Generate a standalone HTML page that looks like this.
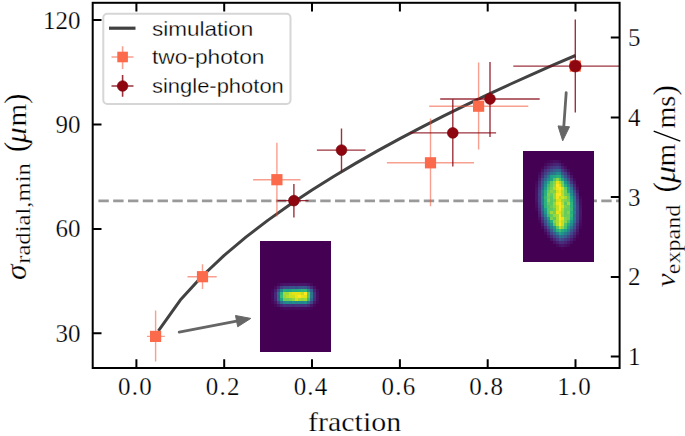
<!DOCTYPE html>
<html><head><meta charset="utf-8"><style>
html,body{margin:0;padding:0;background:#fff;}
svg{display:block;}
</style></head><body>
<svg width="685" height="436" viewBox="0 0 685 436">
<rect width="685" height="436" fill="#fff"/>
<line x1="98.4" y1="200.9" x2="619.6" y2="200.9" stroke="#999" stroke-width="2.6" stroke-dasharray="10.4 4.39"/>
<polyline points="158.4,330.8 180.3,300.1 202.3,276.0 224.2,255.3 246.2,236.9 268.1,220.1 290.1,204.5 312.0,190.0 334.0,176.2 356.0,163.1 377.9,150.6 399.9,138.6 421.8,127.1 443.8,115.9 465.7,105.1 487.7,94.6 509.6,84.5 531.6,74.6 553.5,64.9 575.5,55.5" fill="none" stroke="#424242" stroke-width="3.0" stroke-linejoin="round"/>
<path d="M146.9,336.4H164.8M155.6,310.5V361.4" stroke="rgba(243,85,55,0.56)" stroke-width="1.4" fill="none"/>
<path d="M187.5,276.7H216.7M202.5,264.3V289.0" stroke="rgba(243,85,55,0.56)" stroke-width="1.4" fill="none"/>
<path d="M253.1,179.7H300.5M276.9,142.8V216.4" stroke="rgba(243,85,55,0.56)" stroke-width="1.4" fill="none"/>
<path d="M386.9,162.8H474.0M430.5,118.5V206.3" stroke="rgba(243,85,55,0.56)" stroke-width="1.4" fill="none"/>
<path d="M429.2,106.2H528.3M478.6,62.4V149.6" stroke="rgba(243,85,55,0.56)" stroke-width="1.4" fill="none"/>
<path d="M277.5,200.6H308.5M293.9,184.0V217.5" stroke="rgba(130,0,15,0.8)" stroke-width="1.4" fill="none"/>
<path d="M316.9,150.1H365.5M341.5,128.5V172.0" stroke="rgba(130,0,15,0.8)" stroke-width="1.4" fill="none"/>
<path d="M410.0,132.9H496.1M452.8,99.2V166.6" stroke="rgba(130,0,15,0.8)" stroke-width="1.4" fill="none"/>
<path d="M440.2,99.0H539.7M490.0,62.1V137.0" stroke="rgba(130,0,15,0.8)" stroke-width="1.4" fill="none"/>
<path d="M513.3,66.1H619.6M575.3,19.6V112.4" stroke="rgba(130,0,15,0.8)" stroke-width="1.4" fill="none"/>
<rect x="150.0" y="330.79999999999995" width="11.2" height="11.2" fill="#fb6a4a"/>
<rect x="196.9" y="271.09999999999997" width="11.2" height="11.2" fill="#fb6a4a"/>
<rect x="271.29999999999995" y="174.1" width="11.2" height="11.2" fill="#fb6a4a"/>
<rect x="424.9" y="157.20000000000002" width="11.2" height="11.2" fill="#fb6a4a"/>
<rect x="473.0" y="100.60000000000001" width="11.2" height="11.2" fill="#fb6a4a"/>
<rect x="569.6999999999999" y="60.49999999999999" width="11.2" height="11.2" fill="#fb6a4a"/>
<circle cx="293.9" cy="200.6" r="5.4" fill="#8e0710" stroke="#7a0008" stroke-width="0.6"/>
<circle cx="341.5" cy="150.1" r="5.4" fill="#8e0710" stroke="#7a0008" stroke-width="0.6"/>
<circle cx="452.8" cy="132.9" r="5.4" fill="#8e0710" stroke="#7a0008" stroke-width="0.6"/>
<circle cx="490.0" cy="99.0" r="5.4" fill="#8e0710" stroke="#7a0008" stroke-width="0.6"/>
<circle cx="575.3" cy="66.1" r="5.9" fill="#8e0710" stroke="#7a0008" stroke-width="0.6"/>
<g shape-rendering="crispEdges"><rect x="259.5" y="241.3" width="71.2" height="111.0" fill="#440154"/><rect x="277.30" y="283.30" width="2.97" height="3.00" fill="#46075a"/><rect x="280.27" y="283.30" width="2.97" height="3.00" fill="#471063"/><rect x="283.23" y="283.30" width="2.97" height="3.00" fill="#481668"/><rect x="286.20" y="283.30" width="2.97" height="3.00" fill="#481467"/><rect x="289.17" y="283.30" width="2.97" height="3.00" fill="#481668"/><rect x="292.13" y="283.30" width="2.97" height="3.00" fill="#481668"/><rect x="295.10" y="283.30" width="2.97" height="3.00" fill="#481668"/><rect x="298.07" y="283.30" width="2.97" height="3.00" fill="#481769"/><rect x="301.03" y="283.30" width="2.97" height="3.00" fill="#481668"/><rect x="304.00" y="283.30" width="2.97" height="3.00" fill="#481769"/><rect x="306.97" y="283.30" width="2.97" height="3.00" fill="#471164"/><rect x="309.93" y="283.30" width="2.97" height="3.00" fill="#460a5d"/><rect x="274.33" y="286.30" width="2.97" height="3.00" fill="#460b5e"/><rect x="277.30" y="286.30" width="2.97" height="3.00" fill="#482173"/><rect x="280.27" y="286.30" width="2.97" height="3.00" fill="#433d84"/><rect x="283.23" y="286.30" width="2.97" height="3.00" fill="#3d4d8a"/><rect x="286.20" y="286.30" width="2.97" height="3.00" fill="#3e4c8a"/><rect x="289.17" y="286.30" width="2.97" height="3.00" fill="#3b518b"/><rect x="292.13" y="286.30" width="2.97" height="3.00" fill="#3a538b"/><rect x="295.10" y="286.30" width="2.97" height="3.00" fill="#3d4d8a"/><rect x="298.07" y="286.30" width="2.97" height="3.00" fill="#39568c"/><rect x="301.03" y="286.30" width="2.97" height="3.00" fill="#38598c"/><rect x="304.00" y="286.30" width="2.97" height="3.00" fill="#39558c"/><rect x="306.97" y="286.30" width="2.97" height="3.00" fill="#404588"/><rect x="309.93" y="286.30" width="2.97" height="3.00" fill="#482979"/><rect x="312.90" y="286.30" width="2.97" height="3.00" fill="#471063"/><rect x="271.37" y="289.30" width="2.97" height="3.00" fill="#46075a"/><rect x="274.33" y="289.30" width="2.97" height="3.00" fill="#481c6e"/><rect x="277.30" y="289.30" width="2.97" height="3.00" fill="#3e4989"/><rect x="280.27" y="289.30" width="2.97" height="3.00" fill="#26818e"/><rect x="283.23" y="289.30" width="2.97" height="3.00" fill="#24aa83"/><rect x="286.20" y="289.30" width="2.97" height="3.00" fill="#20a386"/><rect x="289.17" y="289.30" width="2.97" height="3.00" fill="#21a685"/><rect x="292.13" y="289.30" width="2.97" height="3.00" fill="#27ad81"/><rect x="295.10" y="289.30" width="2.97" height="3.00" fill="#25ac82"/><rect x="298.07" y="289.30" width="2.97" height="3.00" fill="#28ae80"/><rect x="301.03" y="289.30" width="2.97" height="3.00" fill="#2fb47c"/><rect x="304.00" y="289.30" width="2.97" height="3.00" fill="#31b57b"/><rect x="306.97" y="289.30" width="2.97" height="3.00" fill="#20928c"/><rect x="309.93" y="289.30" width="2.97" height="3.00" fill="#365d8d"/><rect x="312.90" y="289.30" width="2.97" height="3.00" fill="#482475"/><rect x="315.87" y="289.30" width="2.97" height="3.00" fill="#460a5d"/><rect x="271.37" y="292.30" width="2.97" height="3.00" fill="#460a5d"/><rect x="274.33" y="292.30" width="2.97" height="3.00" fill="#482878"/><rect x="277.30" y="292.30" width="2.97" height="3.00" fill="#30698e"/><rect x="280.27" y="292.30" width="2.97" height="3.00" fill="#2fb47c"/><rect x="283.23" y="292.30" width="2.97" height="3.00" fill="#a0da39"/><rect x="286.20" y="292.30" width="2.97" height="3.00" fill="#9bd93c"/><rect x="289.17" y="292.30" width="2.97" height="3.00" fill="#cde11d"/><rect x="292.13" y="292.30" width="2.97" height="3.00" fill="#dfe318"/><rect x="295.10" y="292.30" width="2.97" height="3.00" fill="#e5e419"/><rect x="298.07" y="292.30" width="2.97" height="3.00" fill="#e2e418"/><rect x="301.03" y="292.30" width="2.97" height="3.00" fill="#c2df23"/><rect x="304.00" y="292.30" width="2.97" height="3.00" fill="#fde725"/><rect x="306.97" y="292.30" width="2.97" height="3.00" fill="#5ec962"/><rect x="309.93" y="292.30" width="2.97" height="3.00" fill="#2a778e"/><rect x="312.90" y="292.30" width="2.97" height="3.00" fill="#46337f"/><rect x="315.87" y="292.30" width="2.97" height="3.00" fill="#470d60"/><rect x="271.37" y="295.30" width="2.97" height="3.00" fill="#460a5d"/><rect x="274.33" y="295.30" width="2.97" height="3.00" fill="#482878"/><rect x="277.30" y="295.30" width="2.97" height="3.00" fill="#33638d"/><rect x="280.27" y="295.30" width="2.97" height="3.00" fill="#3bbb75"/><rect x="283.23" y="295.30" width="2.97" height="3.00" fill="#93d741"/><rect x="286.20" y="295.30" width="2.97" height="3.00" fill="#b2dd2d"/><rect x="289.17" y="295.30" width="2.97" height="3.00" fill="#cae11f"/><rect x="292.13" y="295.30" width="2.97" height="3.00" fill="#cae11f"/><rect x="295.10" y="295.30" width="2.97" height="3.00" fill="#e7e419"/><rect x="298.07" y="295.30" width="2.97" height="3.00" fill="#fbe723"/><rect x="301.03" y="295.30" width="2.97" height="3.00" fill="#e5e419"/><rect x="304.00" y="295.30" width="2.97" height="3.00" fill="#e2e418"/><rect x="306.97" y="295.30" width="2.97" height="3.00" fill="#5cc863"/><rect x="309.93" y="295.30" width="2.97" height="3.00" fill="#2a778e"/><rect x="312.90" y="295.30" width="2.97" height="3.00" fill="#46337f"/><rect x="315.87" y="295.30" width="2.97" height="3.00" fill="#470d60"/><rect x="271.37" y="298.30" width="2.97" height="3.00" fill="#460a5d"/><rect x="274.33" y="298.30" width="2.97" height="3.00" fill="#482475"/><rect x="277.30" y="298.30" width="2.97" height="3.00" fill="#32648e"/><rect x="280.27" y="298.30" width="2.97" height="3.00" fill="#20a486"/><rect x="283.23" y="298.30" width="2.97" height="3.00" fill="#70cf57"/><rect x="286.20" y="298.30" width="2.97" height="3.00" fill="#70cf57"/><rect x="289.17" y="298.30" width="2.97" height="3.00" fill="#7cd250"/><rect x="292.13" y="298.30" width="2.97" height="3.00" fill="#93d741"/><rect x="295.10" y="298.30" width="2.97" height="3.00" fill="#cde11d"/><rect x="298.07" y="298.30" width="2.97" height="3.00" fill="#a2da37"/><rect x="301.03" y="298.30" width="2.97" height="3.00" fill="#95d840"/><rect x="304.00" y="298.30" width="2.97" height="3.00" fill="#a2da37"/><rect x="306.97" y="298.30" width="2.97" height="3.00" fill="#3dbc74"/><rect x="309.93" y="298.30" width="2.97" height="3.00" fill="#30698e"/><rect x="312.90" y="298.30" width="2.97" height="3.00" fill="#472e7c"/><rect x="315.87" y="298.30" width="2.97" height="3.00" fill="#470d60"/><rect x="271.37" y="301.30" width="2.97" height="3.00" fill="#450559"/><rect x="274.33" y="301.30" width="2.97" height="3.00" fill="#481467"/><rect x="277.30" y="301.30" width="2.97" height="3.00" fill="#443a83"/><rect x="280.27" y="301.30" width="2.97" height="3.00" fill="#31688e"/><rect x="283.23" y="301.30" width="2.97" height="3.00" fill="#26828e"/><rect x="286.20" y="301.30" width="2.97" height="3.00" fill="#228b8d"/><rect x="289.17" y="301.30" width="2.97" height="3.00" fill="#26828e"/><rect x="292.13" y="301.30" width="2.97" height="3.00" fill="#228b8d"/><rect x="295.10" y="301.30" width="2.97" height="3.00" fill="#25848e"/><rect x="298.07" y="301.30" width="2.97" height="3.00" fill="#24868e"/><rect x="301.03" y="301.30" width="2.97" height="3.00" fill="#24868e"/><rect x="304.00" y="301.30" width="2.97" height="3.00" fill="#218f8d"/><rect x="306.97" y="301.30" width="2.97" height="3.00" fill="#2d708e"/><rect x="309.93" y="301.30" width="2.97" height="3.00" fill="#414487"/><rect x="312.90" y="301.30" width="2.97" height="3.00" fill="#481a6c"/><rect x="315.87" y="301.30" width="2.97" height="3.00" fill="#46075a"/><rect x="274.33" y="304.30" width="2.97" height="3.00" fill="#46075a"/><rect x="277.30" y="304.30" width="2.97" height="3.00" fill="#481668"/><rect x="280.27" y="304.30" width="2.97" height="3.00" fill="#482576"/><rect x="283.23" y="304.30" width="2.97" height="3.00" fill="#46327e"/><rect x="286.20" y="304.30" width="2.97" height="3.00" fill="#46307e"/><rect x="289.17" y="304.30" width="2.97" height="3.00" fill="#46337f"/><rect x="292.13" y="304.30" width="2.97" height="3.00" fill="#46307e"/><rect x="295.10" y="304.30" width="2.97" height="3.00" fill="#463480"/><rect x="298.07" y="304.30" width="2.97" height="3.00" fill="#46327e"/><rect x="301.03" y="304.30" width="2.97" height="3.00" fill="#46337f"/><rect x="304.00" y="304.30" width="2.97" height="3.00" fill="#453581"/><rect x="306.97" y="304.30" width="2.97" height="3.00" fill="#472c7a"/><rect x="309.93" y="304.30" width="2.97" height="3.00" fill="#481769"/><rect x="312.90" y="304.30" width="2.97" height="3.00" fill="#46085c"/><rect x="280.27" y="307.30" width="2.97" height="3.00" fill="#46075a"/><rect x="283.23" y="307.30" width="2.97" height="3.00" fill="#460a5d"/><rect x="286.20" y="307.30" width="2.97" height="3.00" fill="#460b5e"/><rect x="289.17" y="307.30" width="2.97" height="3.00" fill="#460a5d"/><rect x="292.13" y="307.30" width="2.97" height="3.00" fill="#460a5d"/><rect x="295.10" y="307.30" width="2.97" height="3.00" fill="#460b5e"/><rect x="298.07" y="307.30" width="2.97" height="3.00" fill="#460b5e"/><rect x="301.03" y="307.30" width="2.97" height="3.00" fill="#460b5e"/><rect x="304.00" y="307.30" width="2.97" height="3.00" fill="#460b5e"/><rect x="306.97" y="307.30" width="2.97" height="3.00" fill="#46085c"/><rect x="309.93" y="307.30" width="2.97" height="3.00" fill="#450559"/></g>
<g shape-rendering="crispEdges"><rect x="522.8" y="151.3" width="71.4" height="111.0" fill="#440154"/><rect x="546.60" y="160.30" width="2.98" height="3.00" fill="#450457"/><rect x="549.57" y="160.30" width="2.98" height="3.00" fill="#460a5d"/><rect x="552.55" y="160.30" width="2.98" height="3.00" fill="#470e61"/><rect x="555.52" y="160.30" width="2.98" height="3.00" fill="#470d60"/><rect x="558.50" y="160.30" width="2.98" height="3.00" fill="#46075a"/><rect x="543.62" y="163.30" width="2.98" height="3.00" fill="#46085c"/><rect x="546.60" y="163.30" width="2.98" height="3.00" fill="#471365"/><rect x="549.57" y="163.30" width="2.98" height="3.00" fill="#481b6d"/><rect x="552.55" y="163.30" width="2.98" height="3.00" fill="#482374"/><rect x="555.52" y="163.30" width="2.98" height="3.00" fill="#482677"/><rect x="558.50" y="163.30" width="2.98" height="3.00" fill="#481c6e"/><rect x="561.47" y="163.30" width="2.98" height="3.00" fill="#460b5e"/><rect x="540.65" y="166.30" width="2.98" height="3.00" fill="#450559"/><rect x="543.62" y="166.30" width="2.98" height="3.00" fill="#481769"/><rect x="546.60" y="166.30" width="2.98" height="3.00" fill="#482576"/><rect x="549.57" y="166.30" width="2.98" height="3.00" fill="#453581"/><rect x="552.55" y="166.30" width="2.98" height="3.00" fill="#433d84"/><rect x="555.52" y="166.30" width="2.98" height="3.00" fill="#424086"/><rect x="558.50" y="166.30" width="2.98" height="3.00" fill="#453781"/><rect x="561.47" y="166.30" width="2.98" height="3.00" fill="#481f70"/><rect x="564.45" y="166.30" width="2.98" height="3.00" fill="#470d60"/><rect x="540.65" y="169.30" width="2.98" height="3.00" fill="#471365"/><rect x="543.62" y="169.30" width="2.98" height="3.00" fill="#472d7b"/><rect x="546.60" y="169.30" width="2.98" height="3.00" fill="#433e85"/><rect x="549.57" y="169.30" width="2.98" height="3.00" fill="#3c508b"/><rect x="552.55" y="169.30" width="2.98" height="3.00" fill="#355f8d"/><rect x="555.52" y="169.30" width="2.98" height="3.00" fill="#31668e"/><rect x="558.50" y="169.30" width="2.98" height="3.00" fill="#34618d"/><rect x="561.47" y="169.30" width="2.98" height="3.00" fill="#443983"/><rect x="564.45" y="169.30" width="2.98" height="3.00" fill="#482173"/><rect x="567.42" y="169.30" width="2.98" height="3.00" fill="#460b5e"/><rect x="537.67" y="172.30" width="2.98" height="3.00" fill="#46085c"/><rect x="540.65" y="172.30" width="2.98" height="3.00" fill="#482374"/><rect x="543.62" y="172.30" width="2.98" height="3.00" fill="#423f85"/><rect x="546.60" y="172.30" width="2.98" height="3.00" fill="#38588c"/><rect x="549.57" y="172.30" width="2.98" height="3.00" fill="#2e6f8e"/><rect x="552.55" y="172.30" width="2.98" height="3.00" fill="#2a778e"/><rect x="555.52" y="172.30" width="2.98" height="3.00" fill="#238a8d"/><rect x="558.50" y="172.30" width="2.98" height="3.00" fill="#23888e"/><rect x="561.47" y="172.30" width="2.98" height="3.00" fill="#38588c"/><rect x="564.45" y="172.30" width="2.98" height="3.00" fill="#433e85"/><rect x="567.42" y="172.30" width="2.98" height="3.00" fill="#481c6e"/><rect x="570.40" y="172.30" width="2.98" height="3.00" fill="#450559"/><rect x="537.67" y="175.30" width="2.98" height="3.00" fill="#471164"/><rect x="540.65" y="175.30" width="2.98" height="3.00" fill="#472e7c"/><rect x="543.62" y="175.30" width="2.98" height="3.00" fill="#39568c"/><rect x="546.60" y="175.30" width="2.98" height="3.00" fill="#2c738e"/><rect x="549.57" y="175.30" width="2.98" height="3.00" fill="#1f9e89"/><rect x="552.55" y="175.30" width="2.98" height="3.00" fill="#22a884"/><rect x="555.52" y="175.30" width="2.98" height="3.00" fill="#2ab07f"/><rect x="558.50" y="175.30" width="2.98" height="3.00" fill="#27ad81"/><rect x="561.47" y="175.30" width="2.98" height="3.00" fill="#277f8e"/><rect x="564.45" y="175.30" width="2.98" height="3.00" fill="#3a548c"/><rect x="567.42" y="175.30" width="2.98" height="3.00" fill="#453581"/><rect x="570.40" y="175.30" width="2.98" height="3.00" fill="#471365"/><rect x="537.67" y="178.30" width="2.98" height="3.00" fill="#481b6d"/><rect x="540.65" y="178.30" width="2.98" height="3.00" fill="#404688"/><rect x="543.62" y="178.30" width="2.98" height="3.00" fill="#31688e"/><rect x="546.60" y="178.30" width="2.98" height="3.00" fill="#238a8d"/><rect x="549.57" y="178.30" width="2.98" height="3.00" fill="#1fa188"/><rect x="552.55" y="178.30" width="2.98" height="3.00" fill="#4ec36b"/><rect x="555.52" y="178.30" width="2.98" height="3.00" fill="#86d549"/><rect x="558.50" y="178.30" width="2.98" height="3.00" fill="#50c46a"/><rect x="561.47" y="178.30" width="2.98" height="3.00" fill="#21a685"/><rect x="564.45" y="178.30" width="2.98" height="3.00" fill="#2a778e"/><rect x="567.42" y="178.30" width="2.98" height="3.00" fill="#3c4f8a"/><rect x="570.40" y="178.30" width="2.98" height="3.00" fill="#482475"/><rect x="573.38" y="178.30" width="2.98" height="3.00" fill="#46085c"/><rect x="534.70" y="181.30" width="2.98" height="3.00" fill="#46075a"/><rect x="537.67" y="181.30" width="2.98" height="3.00" fill="#482979"/><rect x="540.65" y="181.30" width="2.98" height="3.00" fill="#39568c"/><rect x="543.62" y="181.30" width="2.98" height="3.00" fill="#25838e"/><rect x="546.60" y="181.30" width="2.98" height="3.00" fill="#25ac82"/><rect x="549.57" y="181.30" width="2.98" height="3.00" fill="#5ac864"/><rect x="552.55" y="181.30" width="2.98" height="3.00" fill="#86d549"/><rect x="555.52" y="181.30" width="2.98" height="3.00" fill="#e2e418"/><rect x="558.50" y="181.30" width="2.98" height="3.00" fill="#a8db34"/><rect x="561.47" y="181.30" width="2.98" height="3.00" fill="#65cb5e"/><rect x="564.45" y="181.30" width="2.98" height="3.00" fill="#1f968b"/><rect x="567.42" y="181.30" width="2.98" height="3.00" fill="#2d718e"/><rect x="570.40" y="181.30" width="2.98" height="3.00" fill="#453581"/><rect x="573.38" y="181.30" width="2.98" height="3.00" fill="#481668"/><rect x="534.70" y="184.30" width="2.98" height="3.00" fill="#460b5e"/><rect x="537.67" y="184.30" width="2.98" height="3.00" fill="#472e7c"/><rect x="540.65" y="184.30" width="2.98" height="3.00" fill="#365d8d"/><rect x="543.62" y="184.30" width="2.98" height="3.00" fill="#218f8d"/><rect x="546.60" y="184.30" width="2.98" height="3.00" fill="#3dbc74"/><rect x="549.57" y="184.30" width="2.98" height="3.00" fill="#65cb5e"/><rect x="552.55" y="184.30" width="2.98" height="3.00" fill="#93d741"/><rect x="555.52" y="184.30" width="2.98" height="3.00" fill="#fde725"/><rect x="558.50" y="184.30" width="2.98" height="3.00" fill="#dae319"/><rect x="561.47" y="184.30" width="2.98" height="3.00" fill="#77d153"/><rect x="564.45" y="184.30" width="2.98" height="3.00" fill="#26ad81"/><rect x="567.42" y="184.30" width="2.98" height="3.00" fill="#23898e"/><rect x="570.40" y="184.30" width="2.98" height="3.00" fill="#3a548c"/><rect x="573.38" y="184.30" width="2.98" height="3.00" fill="#482576"/><rect x="576.35" y="184.30" width="2.98" height="3.00" fill="#450457"/><rect x="534.70" y="187.30" width="2.98" height="3.00" fill="#471063"/><rect x="537.67" y="187.30" width="2.98" height="3.00" fill="#453781"/><rect x="540.65" y="187.30" width="2.98" height="3.00" fill="#31678e"/><rect x="543.62" y="187.30" width="2.98" height="3.00" fill="#1f9e89"/><rect x="546.60" y="187.30" width="2.98" height="3.00" fill="#50c46a"/><rect x="549.57" y="187.30" width="2.98" height="3.00" fill="#73d056"/><rect x="552.55" y="187.30" width="2.98" height="3.00" fill="#aadc32"/><rect x="555.52" y="187.30" width="2.98" height="3.00" fill="#efe51c"/><rect x="558.50" y="187.30" width="2.98" height="3.00" fill="#fde725"/><rect x="561.47" y="187.30" width="2.98" height="3.00" fill="#cde11d"/><rect x="564.45" y="187.30" width="2.98" height="3.00" fill="#60ca60"/><rect x="567.42" y="187.30" width="2.98" height="3.00" fill="#20a386"/><rect x="570.40" y="187.30" width="2.98" height="3.00" fill="#2e6e8e"/><rect x="573.38" y="187.30" width="2.98" height="3.00" fill="#453581"/><rect x="576.35" y="187.30" width="2.98" height="3.00" fill="#470d60"/><rect x="534.70" y="190.30" width="2.98" height="3.00" fill="#471164"/><rect x="537.67" y="190.30" width="2.98" height="3.00" fill="#433e85"/><rect x="540.65" y="190.30" width="2.98" height="3.00" fill="#297b8e"/><rect x="543.62" y="190.30" width="2.98" height="3.00" fill="#27ad81"/><rect x="546.60" y="190.30" width="2.98" height="3.00" fill="#69cd5b"/><rect x="549.57" y="190.30" width="2.98" height="3.00" fill="#84d44b"/><rect x="552.55" y="190.30" width="2.98" height="3.00" fill="#77d153"/><rect x="555.52" y="190.30" width="2.98" height="3.00" fill="#d8e219"/><rect x="558.50" y="190.30" width="2.98" height="3.00" fill="#efe51c"/><rect x="561.47" y="190.30" width="2.98" height="3.00" fill="#b2dd2d"/><rect x="564.45" y="190.30" width="2.98" height="3.00" fill="#70cf57"/><rect x="567.42" y="190.30" width="2.98" height="3.00" fill="#23a983"/><rect x="570.40" y="190.30" width="2.98" height="3.00" fill="#26828e"/><rect x="573.38" y="190.30" width="2.98" height="3.00" fill="#3e4a89"/><rect x="576.35" y="190.30" width="2.98" height="3.00" fill="#481769"/><rect x="534.70" y="193.30" width="2.98" height="3.00" fill="#471365"/><rect x="537.67" y="193.30" width="2.98" height="3.00" fill="#414487"/><rect x="540.65" y="193.30" width="2.98" height="3.00" fill="#2a788e"/><rect x="543.62" y="193.30" width="2.98" height="3.00" fill="#2ab07f"/><rect x="546.60" y="193.30" width="2.98" height="3.00" fill="#7cd250"/><rect x="549.57" y="193.30" width="2.98" height="3.00" fill="#63cb5f"/><rect x="552.55" y="193.30" width="2.98" height="3.00" fill="#95d840"/><rect x="555.52" y="193.30" width="2.98" height="3.00" fill="#f6e620"/><rect x="558.50" y="193.30" width="2.98" height="3.00" fill="#fde725"/><rect x="561.47" y="193.30" width="2.98" height="3.00" fill="#b8de29"/><rect x="564.45" y="193.30" width="2.98" height="3.00" fill="#6ece58"/><rect x="567.42" y="193.30" width="2.98" height="3.00" fill="#52c569"/><rect x="570.40" y="193.30" width="2.98" height="3.00" fill="#218e8d"/><rect x="573.38" y="193.30" width="2.98" height="3.00" fill="#375b8d"/><rect x="576.35" y="193.30" width="2.98" height="3.00" fill="#482576"/><rect x="534.70" y="196.30" width="2.98" height="3.00" fill="#481467"/><rect x="537.67" y="196.30" width="2.98" height="3.00" fill="#423f85"/><rect x="540.65" y="196.30" width="2.98" height="3.00" fill="#26828e"/><rect x="543.62" y="196.30" width="2.98" height="3.00" fill="#35b779"/><rect x="546.60" y="196.30" width="2.98" height="3.00" fill="#6ece58"/><rect x="549.57" y="196.30" width="2.98" height="3.00" fill="#58c765"/><rect x="552.55" y="196.30" width="2.98" height="3.00" fill="#95d840"/><rect x="555.52" y="196.30" width="2.98" height="3.00" fill="#f1e51d"/><rect x="558.50" y="196.30" width="2.98" height="3.00" fill="#c0df25"/><rect x="561.47" y="196.30" width="2.98" height="3.00" fill="#d2e21b"/><rect x="564.45" y="196.30" width="2.98" height="3.00" fill="#a8db34"/><rect x="567.42" y="196.30" width="2.98" height="3.00" fill="#67cc5c"/><rect x="570.40" y="196.30" width="2.98" height="3.00" fill="#20a386"/><rect x="573.38" y="196.30" width="2.98" height="3.00" fill="#2e6e8e"/><rect x="576.35" y="196.30" width="2.98" height="3.00" fill="#472e7c"/><rect x="579.32" y="196.30" width="2.98" height="3.00" fill="#46075a"/><rect x="534.70" y="199.30" width="2.98" height="3.00" fill="#471365"/><rect x="537.67" y="199.30" width="2.98" height="3.00" fill="#424086"/><rect x="540.65" y="199.30" width="2.98" height="3.00" fill="#287c8e"/><rect x="543.62" y="199.30" width="2.98" height="3.00" fill="#2db27d"/><rect x="546.60" y="199.30" width="2.98" height="3.00" fill="#7fd34e"/><rect x="549.57" y="199.30" width="2.98" height="3.00" fill="#58c765"/><rect x="552.55" y="199.30" width="2.98" height="3.00" fill="#70cf57"/><rect x="555.52" y="199.30" width="2.98" height="3.00" fill="#d5e21a"/><rect x="558.50" y="199.30" width="2.98" height="3.00" fill="#dfe318"/><rect x="561.47" y="199.30" width="2.98" height="3.00" fill="#9bd93c"/><rect x="564.45" y="199.30" width="2.98" height="3.00" fill="#7cd250"/><rect x="567.42" y="199.30" width="2.98" height="3.00" fill="#6ccd5a"/><rect x="570.40" y="199.30" width="2.98" height="3.00" fill="#25ab82"/><rect x="573.38" y="199.30" width="2.98" height="3.00" fill="#2a778e"/><rect x="576.35" y="199.30" width="2.98" height="3.00" fill="#453882"/><rect x="579.32" y="199.30" width="2.98" height="3.00" fill="#470d60"/><rect x="534.70" y="202.30" width="2.98" height="3.00" fill="#470e61"/><rect x="537.67" y="202.30" width="2.98" height="3.00" fill="#443a83"/><rect x="540.65" y="202.30" width="2.98" height="3.00" fill="#297b8e"/><rect x="543.62" y="202.30" width="2.98" height="3.00" fill="#2db27d"/><rect x="546.60" y="202.30" width="2.98" height="3.00" fill="#65cb5e"/><rect x="549.57" y="202.30" width="2.98" height="3.00" fill="#58c765"/><rect x="552.55" y="202.30" width="2.98" height="3.00" fill="#95d840"/><rect x="555.52" y="202.30" width="2.98" height="3.00" fill="#efe51c"/><rect x="558.50" y="202.30" width="2.98" height="3.00" fill="#fde725"/><rect x="561.47" y="202.30" width="2.98" height="3.00" fill="#bade28"/><rect x="564.45" y="202.30" width="2.98" height="3.00" fill="#60ca60"/><rect x="567.42" y="202.30" width="2.98" height="3.00" fill="#a0da39"/><rect x="570.40" y="202.30" width="2.98" height="3.00" fill="#2fb47c"/><rect x="573.38" y="202.30" width="2.98" height="3.00" fill="#2a788e"/><rect x="576.35" y="202.30" width="2.98" height="3.00" fill="#423f85"/><rect x="579.32" y="202.30" width="2.98" height="3.00" fill="#470e61"/><rect x="534.70" y="205.30" width="2.98" height="3.00" fill="#460b5e"/><rect x="537.67" y="205.30" width="2.98" height="3.00" fill="#463480"/><rect x="540.65" y="205.30" width="2.98" height="3.00" fill="#2f6b8e"/><rect x="543.62" y="205.30" width="2.98" height="3.00" fill="#2db27d"/><rect x="546.60" y="205.30" width="2.98" height="3.00" fill="#50c46a"/><rect x="549.57" y="205.30" width="2.98" height="3.00" fill="#67cc5c"/><rect x="552.55" y="205.30" width="2.98" height="3.00" fill="#89d548"/><rect x="555.52" y="205.30" width="2.98" height="3.00" fill="#c8e020"/><rect x="558.50" y="205.30" width="2.98" height="3.00" fill="#fde725"/><rect x="561.47" y="205.30" width="2.98" height="3.00" fill="#d2e21b"/><rect x="564.45" y="205.30" width="2.98" height="3.00" fill="#77d153"/><rect x="567.42" y="205.30" width="2.98" height="3.00" fill="#69cd5b"/><rect x="570.40" y="205.30" width="2.98" height="3.00" fill="#2fb47c"/><rect x="573.38" y="205.30" width="2.98" height="3.00" fill="#287d8e"/><rect x="576.35" y="205.30" width="2.98" height="3.00" fill="#404588"/><rect x="579.32" y="205.30" width="2.98" height="3.00" fill="#471365"/><rect x="534.70" y="208.30" width="2.98" height="3.00" fill="#46075a"/><rect x="537.67" y="208.30" width="2.98" height="3.00" fill="#472a7a"/><rect x="540.65" y="208.30" width="2.98" height="3.00" fill="#2f6b8e"/><rect x="543.62" y="208.30" width="2.98" height="3.00" fill="#1f9e89"/><rect x="546.60" y="208.30" width="2.98" height="3.00" fill="#54c568"/><rect x="549.57" y="208.30" width="2.98" height="3.00" fill="#5ac864"/><rect x="552.55" y="208.30" width="2.98" height="3.00" fill="#70cf57"/><rect x="555.52" y="208.30" width="2.98" height="3.00" fill="#cae11f"/><rect x="558.50" y="208.30" width="2.98" height="3.00" fill="#fde725"/><rect x="561.47" y="208.30" width="2.98" height="3.00" fill="#b2dd2d"/><rect x="564.45" y="208.30" width="2.98" height="3.00" fill="#67cc5c"/><rect x="567.42" y="208.30" width="2.98" height="3.00" fill="#67cc5c"/><rect x="570.40" y="208.30" width="2.98" height="3.00" fill="#35b779"/><rect x="573.38" y="208.30" width="2.98" height="3.00" fill="#2a788e"/><rect x="576.35" y="208.30" width="2.98" height="3.00" fill="#404588"/><rect x="579.32" y="208.30" width="2.98" height="3.00" fill="#481668"/><rect x="537.67" y="211.30" width="2.98" height="3.00" fill="#482173"/><rect x="540.65" y="211.30" width="2.98" height="3.00" fill="#375a8c"/><rect x="543.62" y="211.30" width="2.98" height="3.00" fill="#1f968b"/><rect x="546.60" y="211.30" width="2.98" height="3.00" fill="#52c569"/><rect x="549.57" y="211.30" width="2.98" height="3.00" fill="#9bd93c"/><rect x="552.55" y="211.30" width="2.98" height="3.00" fill="#75d054"/><rect x="555.52" y="211.30" width="2.98" height="3.00" fill="#ece51b"/><rect x="558.50" y="211.30" width="2.98" height="3.00" fill="#dfe318"/><rect x="561.47" y="211.30" width="2.98" height="3.00" fill="#a2da37"/><rect x="564.45" y="211.30" width="2.98" height="3.00" fill="#67cc5c"/><rect x="567.42" y="211.30" width="2.98" height="3.00" fill="#7fd34e"/><rect x="570.40" y="211.30" width="2.98" height="3.00" fill="#29af7f"/><rect x="573.38" y="211.30" width="2.98" height="3.00" fill="#27808e"/><rect x="576.35" y="211.30" width="2.98" height="3.00" fill="#424186"/><rect x="579.32" y="211.30" width="2.98" height="3.00" fill="#481769"/><rect x="537.67" y="214.30" width="2.98" height="3.00" fill="#481a6c"/><rect x="540.65" y="214.30" width="2.98" height="3.00" fill="#3e4c8a"/><rect x="543.62" y="214.30" width="2.98" height="3.00" fill="#27808e"/><rect x="546.60" y="214.30" width="2.98" height="3.00" fill="#3bbb75"/><rect x="549.57" y="214.30" width="2.98" height="3.00" fill="#60ca60"/><rect x="552.55" y="214.30" width="2.98" height="3.00" fill="#90d743"/><rect x="555.52" y="214.30" width="2.98" height="3.00" fill="#addc30"/><rect x="558.50" y="214.30" width="2.98" height="3.00" fill="#fde725"/><rect x="561.47" y="214.30" width="2.98" height="3.00" fill="#98d83e"/><rect x="564.45" y="214.30" width="2.98" height="3.00" fill="#69cd5b"/><rect x="567.42" y="214.30" width="2.98" height="3.00" fill="#6ccd5a"/><rect x="570.40" y="214.30" width="2.98" height="3.00" fill="#31b57b"/><rect x="573.38" y="214.30" width="2.98" height="3.00" fill="#2c738e"/><rect x="576.35" y="214.30" width="2.98" height="3.00" fill="#424086"/><rect x="579.32" y="214.30" width="2.98" height="3.00" fill="#481668"/><rect x="537.67" y="217.30" width="2.98" height="3.00" fill="#470e61"/><rect x="540.65" y="217.30" width="2.98" height="3.00" fill="#463480"/><rect x="543.62" y="217.30" width="2.98" height="3.00" fill="#31678e"/><rect x="546.60" y="217.30" width="2.98" height="3.00" fill="#1f9a8a"/><rect x="549.57" y="217.30" width="2.98" height="3.00" fill="#75d054"/><rect x="552.55" y="217.30" width="2.98" height="3.00" fill="#5ac864"/><rect x="555.52" y="217.30" width="2.98" height="3.00" fill="#b0dd2f"/><rect x="558.50" y="217.30" width="2.98" height="3.00" fill="#fde725"/><rect x="561.47" y="217.30" width="2.98" height="3.00" fill="#e5e419"/><rect x="564.45" y="217.30" width="2.98" height="3.00" fill="#7fd34e"/><rect x="567.42" y="217.30" width="2.98" height="3.00" fill="#6ece58"/><rect x="570.40" y="217.30" width="2.98" height="3.00" fill="#26ad81"/><rect x="573.38" y="217.30" width="2.98" height="3.00" fill="#2a778e"/><rect x="576.35" y="217.30" width="2.98" height="3.00" fill="#433d84"/><rect x="579.32" y="217.30" width="2.98" height="3.00" fill="#481467"/><rect x="537.67" y="220.30" width="2.98" height="3.00" fill="#450559"/><rect x="540.65" y="220.30" width="2.98" height="3.00" fill="#482979"/><rect x="543.62" y="220.30" width="2.98" height="3.00" fill="#39568c"/><rect x="546.60" y="220.30" width="2.98" height="3.00" fill="#25838e"/><rect x="549.57" y="220.30" width="2.98" height="3.00" fill="#26ad81"/><rect x="552.55" y="220.30" width="2.98" height="3.00" fill="#7fd34e"/><rect x="555.52" y="220.30" width="2.98" height="3.00" fill="#addc30"/><rect x="558.50" y="220.30" width="2.98" height="3.00" fill="#efe51c"/><rect x="561.47" y="220.30" width="2.98" height="3.00" fill="#c2df23"/><rect x="564.45" y="220.30" width="2.98" height="3.00" fill="#7fd34e"/><rect x="567.42" y="220.30" width="2.98" height="3.00" fill="#48c16e"/><rect x="570.40" y="220.30" width="2.98" height="3.00" fill="#1e9b8a"/><rect x="573.38" y="220.30" width="2.98" height="3.00" fill="#2e6e8e"/><rect x="576.35" y="220.30" width="2.98" height="3.00" fill="#443983"/><rect x="579.32" y="220.30" width="2.98" height="3.00" fill="#470e61"/><rect x="540.65" y="223.30" width="2.98" height="3.00" fill="#481769"/><rect x="543.62" y="223.30" width="2.98" height="3.00" fill="#414487"/><rect x="546.60" y="223.30" width="2.98" height="3.00" fill="#2c728e"/><rect x="549.57" y="223.30" width="2.98" height="3.00" fill="#1f958b"/><rect x="552.55" y="223.30" width="2.98" height="3.00" fill="#5cc863"/><rect x="555.52" y="223.30" width="2.98" height="3.00" fill="#b2dd2d"/><rect x="558.50" y="223.30" width="2.98" height="3.00" fill="#fde725"/><rect x="561.47" y="223.30" width="2.98" height="3.00" fill="#c0df25"/><rect x="564.45" y="223.30" width="2.98" height="3.00" fill="#52c569"/><rect x="567.42" y="223.30" width="2.98" height="3.00" fill="#25ac82"/><rect x="570.40" y="223.30" width="2.98" height="3.00" fill="#228c8d"/><rect x="573.38" y="223.30" width="2.98" height="3.00" fill="#375a8c"/><rect x="576.35" y="223.30" width="2.98" height="3.00" fill="#472a7a"/><rect x="579.32" y="223.30" width="2.98" height="3.00" fill="#460b5e"/><rect x="540.65" y="226.30" width="2.98" height="3.00" fill="#460a5d"/><rect x="543.62" y="226.30" width="2.98" height="3.00" fill="#482878"/><rect x="546.60" y="226.30" width="2.98" height="3.00" fill="#3b528b"/><rect x="549.57" y="226.30" width="2.98" height="3.00" fill="#287c8e"/><rect x="552.55" y="226.30" width="2.98" height="3.00" fill="#1e9b8a"/><rect x="555.52" y="226.30" width="2.98" height="3.00" fill="#5ac864"/><rect x="558.50" y="226.30" width="2.98" height="3.00" fill="#bade28"/><rect x="561.47" y="226.30" width="2.98" height="3.00" fill="#8bd646"/><rect x="564.45" y="226.30" width="2.98" height="3.00" fill="#46c06f"/><rect x="567.42" y="226.30" width="2.98" height="3.00" fill="#1f998a"/><rect x="570.40" y="226.30" width="2.98" height="3.00" fill="#2c728e"/><rect x="573.38" y="226.30" width="2.98" height="3.00" fill="#3e4c8a"/><rect x="576.35" y="226.30" width="2.98" height="3.00" fill="#482173"/><rect x="579.32" y="226.30" width="2.98" height="3.00" fill="#450559"/><rect x="543.62" y="229.30" width="2.98" height="3.00" fill="#481668"/><rect x="546.60" y="229.30" width="2.98" height="3.00" fill="#463480"/><rect x="549.57" y="229.30" width="2.98" height="3.00" fill="#365d8d"/><rect x="552.55" y="229.30" width="2.98" height="3.00" fill="#23888e"/><rect x="555.52" y="229.30" width="2.98" height="3.00" fill="#2cb17e"/><rect x="558.50" y="229.30" width="2.98" height="3.00" fill="#42be71"/><rect x="561.47" y="229.30" width="2.98" height="3.00" fill="#27ad81"/><rect x="564.45" y="229.30" width="2.98" height="3.00" fill="#1fa188"/><rect x="567.42" y="229.30" width="2.98" height="3.00" fill="#26828e"/><rect x="570.40" y="229.30" width="2.98" height="3.00" fill="#38598c"/><rect x="573.38" y="229.30" width="2.98" height="3.00" fill="#443b84"/><rect x="576.35" y="229.30" width="2.98" height="3.00" fill="#48186a"/><rect x="543.62" y="232.30" width="2.98" height="3.00" fill="#46085c"/><rect x="546.60" y="232.30" width="2.98" height="3.00" fill="#482071"/><rect x="549.57" y="232.30" width="2.98" height="3.00" fill="#414487"/><rect x="552.55" y="232.30" width="2.98" height="3.00" fill="#355e8d"/><rect x="555.52" y="232.30" width="2.98" height="3.00" fill="#277e8e"/><rect x="558.50" y="232.30" width="2.98" height="3.00" fill="#1fa287"/><rect x="561.47" y="232.30" width="2.98" height="3.00" fill="#21918c"/><rect x="564.45" y="232.30" width="2.98" height="3.00" fill="#277e8e"/><rect x="567.42" y="232.30" width="2.98" height="3.00" fill="#30698e"/><rect x="570.40" y="232.30" width="2.98" height="3.00" fill="#3f4788"/><rect x="573.38" y="232.30" width="2.98" height="3.00" fill="#482878"/><rect x="576.35" y="232.30" width="2.98" height="3.00" fill="#470e61"/><rect x="546.60" y="235.30" width="2.98" height="3.00" fill="#470e61"/><rect x="549.57" y="235.30" width="2.98" height="3.00" fill="#482677"/><rect x="552.55" y="235.30" width="2.98" height="3.00" fill="#424086"/><rect x="555.52" y="235.30" width="2.98" height="3.00" fill="#39568c"/><rect x="558.50" y="235.30" width="2.98" height="3.00" fill="#2c728e"/><rect x="561.47" y="235.30" width="2.98" height="3.00" fill="#306a8e"/><rect x="564.45" y="235.30" width="2.98" height="3.00" fill="#355e8d"/><rect x="567.42" y="235.30" width="2.98" height="3.00" fill="#404588"/><rect x="570.40" y="235.30" width="2.98" height="3.00" fill="#46307e"/><rect x="573.38" y="235.30" width="2.98" height="3.00" fill="#481a6c"/><rect x="576.35" y="235.30" width="2.98" height="3.00" fill="#450457"/><rect x="549.57" y="238.30" width="2.98" height="3.00" fill="#471164"/><rect x="552.55" y="238.30" width="2.98" height="3.00" fill="#482475"/><rect x="555.52" y="238.30" width="2.98" height="3.00" fill="#443b84"/><rect x="558.50" y="238.30" width="2.98" height="3.00" fill="#39558c"/><rect x="561.47" y="238.30" width="2.98" height="3.00" fill="#3e4a89"/><rect x="564.45" y="238.30" width="2.98" height="3.00" fill="#443b84"/><rect x="567.42" y="238.30" width="2.98" height="3.00" fill="#46307e"/><rect x="570.40" y="238.30" width="2.98" height="3.00" fill="#481d6f"/><rect x="573.38" y="238.30" width="2.98" height="3.00" fill="#460b5e"/><rect x="552.55" y="241.30" width="2.98" height="3.00" fill="#471063"/><rect x="555.52" y="241.30" width="2.98" height="3.00" fill="#481f70"/><rect x="558.50" y="241.30" width="2.98" height="3.00" fill="#472e7c"/><rect x="561.47" y="241.30" width="2.98" height="3.00" fill="#472d7b"/><rect x="564.45" y="241.30" width="2.98" height="3.00" fill="#482576"/><rect x="567.42" y="241.30" width="2.98" height="3.00" fill="#481769"/><rect x="570.40" y="241.30" width="2.98" height="3.00" fill="#470d60"/><rect x="555.52" y="244.30" width="2.98" height="3.00" fill="#460a5d"/><rect x="558.50" y="244.30" width="2.98" height="3.00" fill="#481467"/><rect x="561.47" y="244.30" width="2.98" height="3.00" fill="#481769"/><rect x="564.45" y="244.30" width="2.98" height="3.00" fill="#471063"/><rect x="567.42" y="244.30" width="2.98" height="3.00" fill="#460a5d"/><rect x="561.47" y="247.30" width="2.98" height="3.00" fill="#450457"/></g>
<line x1="179.2" y1="332.2" x2="236.6" y2="321.1" stroke="#666" stroke-width="2.8" stroke-linecap="round"/><polygon points="250.8,318.4 237.7,326.8 235.5,315.5" fill="#666" stroke="#666" stroke-width="1" stroke-linejoin="round"/>
<line x1="566.2" y1="92.6" x2="563.8" y2="126.3" stroke="#666" stroke-width="2.8" stroke-linecap="round"/><polygon points="562.7,140.8 558.0,125.9 569.5,126.8" fill="#666" stroke="#666" stroke-width="1" stroke-linejoin="round"/>
<rect x="92.7" y="2.8" width="526.9" height="365.2" fill="none" stroke="#000" stroke-width="2"/>
<path d="M136.4,368.0v-8.8M136.4,2.8v8.8M224.2,368.0v-8.8M224.2,2.8v8.8M312.0,368.0v-8.8M312.0,2.8v8.8M399.9,368.0v-8.8M399.9,2.8v8.8M487.7,368.0v-8.8M487.7,2.8v8.8M575.5,368.0v-8.8M575.5,2.8v8.8M92.7,333.3h8.8M92.7,228.9h8.8M92.7,124.4h8.8M92.7,20.0h8.8M619.6,356.6h-8.8M619.6,276.9h-8.8M619.6,197.1h-8.8M619.6,117.4h-8.8M619.6,37.6h-8.8" stroke="#000" stroke-width="2" fill="none"/>
<g style="font-family:&quot;Liberation Serif&quot;,serif;font-size:25px" fill="#000" stroke="#fff" stroke-width="0.25" paint-order="fill stroke"><text x="135.5" y="395" text-anchor="middle" letter-spacing="1.2">0.0</text><text x="223.3" y="395" text-anchor="middle" letter-spacing="1.2">0.2</text><text x="311.1" y="395" text-anchor="middle" letter-spacing="1.2">0.4</text><text x="399.0" y="395" text-anchor="middle" letter-spacing="1.2">0.6</text><text x="486.8" y="395" text-anchor="middle" letter-spacing="1.2">0.8</text><text x="574.6" y="395" text-anchor="middle" letter-spacing="1.2">1.0</text><text x="80.5" y="341.8" text-anchor="end">30</text><text x="80.5" y="237.4" text-anchor="end">60</text><text x="80.5" y="132.9" text-anchor="end">90</text><text x="80.5" y="28.5" text-anchor="end">120</text><text x="628" y="365.1">1</text><text x="628" y="285.4">2</text><text x="628" y="205.6">3</text><text x="628" y="125.9">4</text><text x="628" y="46.1">5</text></g>
<g fill="#000" stroke="#fff" stroke-width="0.25" paint-order="fill stroke">
<text x="308.0" y="431" textLength="93.2" lengthAdjust="spacingAndGlyphs" style="font-family:&quot;Liberation Serif&quot;,serif;font-size:27px">fraction</text>
<text transform="translate(25.8,280.0) rotate(-90) scale(1.1,1)" style="font-family:&quot;Liberation Serif&quot;,serif;font-size:28.5px;font-style:italic">σ</text>
<text transform="translate(29.7,263.8) rotate(-90)" style="font-family:&quot;Liberation Serif&quot;,serif;font-size:21.5px" textLength="100.6" lengthAdjust="spacingAndGlyphs">radial,min</text>
<text transform="translate(26.3,152.3) rotate(-90)" style="font-family:&quot;Liberation Serif&quot;,serif;font-size:31.6px">(</text>
<text transform="translate(25.8,143.3) rotate(-90) scale(1.12,1)" style="font-family:&quot;Liberation Serif&quot;,serif;font-size:28.5px;font-style:italic">μ</text>
<text transform="translate(25.8,126.6) rotate(-90) scale(1.08,1)" style="font-family:&quot;Liberation Serif&quot;,serif;font-size:27px">m</text>
<text transform="translate(26.3,104.0) rotate(-90)" style="font-family:&quot;Liberation Serif&quot;,serif;font-size:31.6px">)</text>
<text transform="translate(674.6,287.3) rotate(-90) scale(1.15,1)" style="font-family:&quot;Liberation Serif&quot;,serif;font-size:27px;font-style:italic">v</text>
<text transform="translate(680.2,274.2) rotate(-90)" style="font-family:&quot;Liberation Serif&quot;,serif;font-size:21.5px" textLength="69.4" lengthAdjust="spacingAndGlyphs">expand</text>
<text transform="translate(675.1,192.4) rotate(-90)" style="font-family:&quot;Liberation Serif&quot;,serif;font-size:31.6px">(</text>
<text transform="translate(674.6,183.0) rotate(-90) scale(1.2,1)" style="font-family:&quot;Liberation Serif&quot;,serif;font-size:28.5px;font-style:italic">μ</text>
<text transform="translate(674.6,166.4) rotate(-90) scale(1.08,1)" style="font-family:&quot;Liberation Serif&quot;,serif;font-size:27px">m</text>
<line x1="680.3" y1="141.2" x2="653.7" y2="131.1" stroke="#000" stroke-width="1.4"/>
<text transform="translate(674.6,128.6) rotate(-90)" style="font-family:&quot;Liberation Serif&quot;,serif;font-size:27px" textLength="32.8" lengthAdjust="spacingAndGlyphs">ms</text>
<text transform="translate(675.1,95.4) rotate(-90)" style="font-family:&quot;Liberation Serif&quot;,serif;font-size:31.6px">)</text>
</g>
<rect x="103.3" y="13.8" width="187.2" height="90.1" rx="4" fill="rgba(255,255,255,0.85)" stroke="#d6d6d6" stroke-width="2"/>
<line x1="109" y1="28.2" x2="135.5" y2="28.2" stroke="#404040" stroke-width="3.2"/>
<path d="M111.5,57H133.5M122.6,46.2V68.9" stroke="rgba(243,85,55,0.56)" stroke-width="1.6"/>
<rect x="117.3" y="51.7" width="10.6" height="10.6" fill="#fb6a4a"/>
<path d="M111.5,86H133.5M122.6,75.1V96.7" stroke="rgba(130,0,15,0.8)" stroke-width="1.6"/>
<circle cx="122.6" cy="86" r="5.3" fill="#8e0710" stroke="#7a0008" stroke-width="0.6"/>
<g style="font-family:&quot;Liberation Sans&quot;,sans-serif;font-size:21px" fill="#000" stroke="#fff" stroke-width="0.3" paint-order="fill stroke"><text x="152.0" y="36" textLength="101.4" lengthAdjust="spacingAndGlyphs">simulation</text><text x="152.0" y="64.0" textLength="112.4" lengthAdjust="spacingAndGlyphs">two-photon</text><text x="152.0" y="93.0" textLength="131.8" lengthAdjust="spacingAndGlyphs">single-photon</text></g>
</svg>
</body></html>
